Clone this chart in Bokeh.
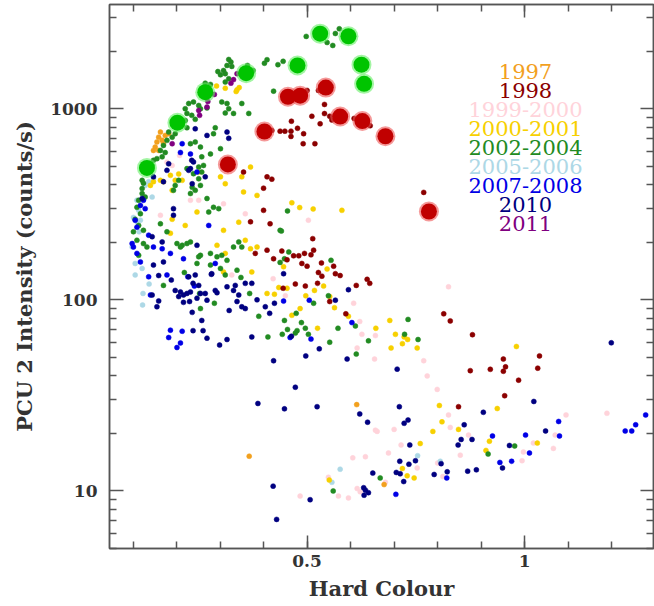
from bokeh.plotting import figure
from bokeh.models import FixedTicker, LinearAxis, LogAxis, Label, Range1d, CustomJSTickFormatter
from bokeh.embed import file_html
from bokeh.resources import INLINE

# ---------------- data (Hard Colour, PCU 2 intensity in counts/s) ----------------
hc_1997 = [0.163, 0.159, 0.155, 0.151, 0.167, 0.174, 0.182, 0.170, 0.159, 0.147, 0.614, 0.367, 0.677]
int_1997 = [755, 710, 670, 630, 683, 725, 740, 656, 605, 605, 28.3, 15.2, 10.8]

hc_1998 = [0.500, 0.526, 0.540, 0.511, 0.540, 0.552, 0.557, 0.530, 0.608, 0.645, 0.464, 0.478, 0.438, 0.449,
           0.463, 0.463, 0.492, 0.491, 0.518, 0.768, 0.419,
           0.354, 0.408, 0.419, 0.400, 0.400, 0.370, 0.415, 0.381, 0.408, 0.423,
           0.513, 0.515, 0.509, 0.494, 0.481, 0.469, 0.454, 0.442, 0.488, 0.500, 0.533, 0.561, 0.526, 0.534,
           0.565, 0.576, 0.638,
           0.644, 0.613, 0.496, 0.473, 0.445, 0.524, 0.552, 0.589, 0.814, 0.829, 0.848,
           0.880, 1.034, 0.951, 0.956, 0.951, 0.921, 0.875, 1.030, 0.986, 0.954]
int_1998 = [1247, 1247, 1053, 913, 943, 913, 873, 834, 890, 815, 860, 790, 763, 763,
            763, 716, 740, 656, 656, 365, 770,
            466, 440, 428, 384, 294, 256, 250, 175, 182, 164,
            209, 182, 172, 175, 170, 170, 162, 180, 155, 150, 156, 150, 139, 133,
            137, 134, 128,
            122, 119, 118, 121, 115, 122, 98, 84.5, 84.5, 77.6, 27.6,
            65.7, 50.9, 49, 44.6, 42.3, 43.3, 42.6, 43.9, 38, 31.5]

hc_1999 = [0.190, 0.232, 0.251, 0.163, 0.308, 0.358, 0.327, 0.503, 0.422, 0.825, 0.607, 0.621, 0.626, 0.657,
           0.615, 0.655, 0.768, 0.776, 0.799, 0.825, 0.829, 0.700, 0.661, 0.716, 0.450, 1.095, 1.189, 0.484,
           0.572, 0.595, 0.615, 0.622, 0.605, 0.634, 0.687, 0.753, 0.800, 0.812, 0.852, 0.871, 0.994, 0.997,
           1.020, 1.066, 1.070, 0.680, 0.549, 0.657, 0.207, 0.178]
int_1999 = [505, 332, 332, 277, 318, 282, 135, 261, 129, 117, 96, 77, 66, 65,
            56, 49, 48, 40, 34, 25, 21.5, 21, 20.5, 17.4, 105, 25, 25.5, 9.4,
            9.4, 9.2, 10.3, 9.9, 14.9, 15.1, 15.8, 13.2, 14.0, 11.9, 15.4, 19.6, 14.4, 16.0,
            17.8, 16.7, 19.6, 11.1, 11.8, 20.8, 570, 525]

hc_2000 = [0.292, 0.312, 0.339, 0.344, 0.337,
           0.140, 0.147, 0.163, 0.170, 0.186, 0.197, 0.205, 0.213, 0.251, 0.190, 0.190, 0.186, 0.220, 0.247,
           0.308, 0.312, 0.350, 0.370, 0.354, 0.385, 0.343, 0.293, 0.312, 0.358, 0.370, 0.385, 0.308, 0.373,
           0.446, 0.301,
           0.465, 0.483, 0.514, 0.580, 0.546,
           0.408, 0.425, 0.435, 0.454,
           0.538, 0.517, 0.497, 0.552, 0.563, 0.484, 0.465, 0.524, 0.595, 0.658, 0.690, 0.703, 0.723, 0.731,
           0.719, 0.693, 0.753, 0.804, 0.810, 0.789, 0.760,
           0.981, 0.937, 0.848, 0.919, 1.029,
           0.719, 0.730, 0.746, 0.551, 0.911]
int_2000 = [1315, 1280, 1255, 1290, 1230,
            397, 415, 422, 415, 448, 422, 456, 422, 466, 374, 264, 223, 245, 288,
            231, 405, 440, 495, 367, 352, 255, 193, 175, 205, 185, 189, 140, 140,
            149, 440,
            322, 304, 299, 294, 145,
            108, 107, 116, 115,
            118, 112, 105, 104, 91, 90, 83, 71, 82, 71, 78, 66, 64, 62,
            59, 56, 56, 28, 23, 20.5, 17.7,
            57, 27, 21, 18.2, 17.8,
            13.1, 12.0, 11.7, 11.4, 16.3]

hc_2002 = [0.498, 0.546, 0.559, 0.574, 0.565, 0.408, 0.402, 0.433, 0.445, 0.423, 0.363, 0.376, 0.320, 0.325,
           0.316, 0.327, 0.308, 0.295, 0.301, 0.312, 0.320, 0.312, 0.278, 0.266, 0.274, 0.239, 0.228, 0.251,
           0.270, 0.304, 0.316, 0.350, 0.320, 0.255, 0.220,
           0.366, 0.331, 0.312, 0.224, 0.235, 0.243, 0.220, 0.224, 0.197, 0.182, 0.190, 0.178, 0.170, 0.163,
           0.174, 0.167, 0.155, 0.147, 0.144, 0.243, 0.255, 0.232, 0.278, 0.301, 0.289, 0.285, 0.258, 0.262,
           0.251, 0.258, 0.239, 0.224, 0.251, 0.255, 0.236, 0.243, 0.232, 0.205, 0.197, 0.193, 0.121, 0.124,
           0.121, 0.121, 0.128, 0.113, 0.109, 0.117, 0.105, 0.113, 0.124, 0.101, 0.109, 0.124, 0.113, 0.132,
           0.163, 0.178, 0.270, 0.285, 0.297, 0.274, 0.201, 0.213, 0.224, 0.232, 0.209, 0.255, 0.251, 0.278,
           0.247, 0.278, 0.293, 0.304, 0.316, 0.331, 0.343, 0.350, 0.312, 0.339, 0.301, 0.438,
           0.455, 0.441, 0.458, 0.448, 0.555, 0.438,
           0.170, 0.218, 0.253, 0.255, 0.287, 0.348, 0.368, 0.389, 0.410, 0.448, 0.443, 0.455,
           0.549, 0.515, 0.475, 0.487, 0.477, 0.473, 0.496, 0.503, 0.571, 0.552, 0.611, 0.613, 0.641, 0.732,
           0.724, 0.755,
           0.977, 0.668, 0.560, 0.916]
int_2002 = [2390, 2220, 2143, 2620, 2475, 1805, 1730, 1700, 1770, 1236, 1684, 1585, 1810, 1755,
            1684, 1665, 1585, 1565, 1505, 1525, 1435, 1380, 1340, 1360, 1247, 1085, 1065, 1040,
            1010, 1085, 1065, 1065, 1000, 1000, 1000,
            945, 945, 950, 945, 923, 880, 869, 795, 740, 755, 710, 683, 643, 605,
            590, 560, 548, 537, 505, 670, 630, 656, 580, 618, 795, 740, 560, 505,
            495, 466, 457, 486, 430, 397, 388, 374, 360, 422, 397, 374, 382, 408,
            422, 360, 345, 332, 305, 282, 264, 245, 231, 227, 205, 197, 171, 189,
            250, 227, 339, 305, 300, 288, 197, 193, 197, 201, 189, 171, 168, 175,
            155, 152, 168, 171, 161, 189, 201, 189, 135, 143, 146, 231,
            292, 229, 178, 164, 161, 157,
            119, 139, 108, 90, 96, 131, 108, 82, 64, 78, 66, 70,
            105, 96, 85, 76, 69, 67, 71, 66, 71, 60, 73, 52, 61, 79,
            66, 62,
            17.2, 11.7, 10.0, 15.6]

hc_2005 = [0.147, 0.136, 0.128, 0.113, 0.101, 0.109, 0.144, 0.098, 0.105, 0.121, 0.105, 0.123, 0.122, 0.137,
           0.576, 0.557, 0.754, 0.806, 0.117, 0.109, 0.114]
int_2005 = [430, 415, 397, 294, 270, 256, 345, 189, 155, 146, 135, 108, 94, 121,
            13.0, 11.1, 15.3, 14.3, 261, 332, 227]

hc_2007 = [0.213, 0.209, 0.232, 0.247, 0.124, 0.117, 0.128, 0.105, 0.109, 0.136, 0.098, 0.101, 0.109, 0.117,
           0.147, 0.167, 0.186, 0.216, 0.274, 0.289, 0.136, 0.178,
           0.186, 0.213, 0.182, 0.209, 0.201, 0.140, 0.226, 0.241, 0.446, 0.461,
           0.505, 0.603, 0.509,
           1.078, 1.080, 1.002, 0.926, 1.278, 1.255, 1.246, 1.231,
           0.704, 0.821, 0.943, 0.970, 1.011]
int_2007 = [656, 590, 580, 466, 332, 312, 300, 261, 240, 218, 197, 189, 175, 158,
            189, 185, 175, 164, 245, 155, 132, 135,
            69.4, 68.5, 63.5, 59.5, 56.3, 106, 132, 118, 98.5, 63.5,
            99.6, 76, 62.3,
            23.1, 19.4, 19.6, 19.4, 25, 22.2, 20.6, 20.6,
            9.6, 11.7, 14.1, 14.3, 15.8]

hc_2010 = [0.243, 0.270, 0.239, 0.235, 0.232, 0.228, 0.266, 0.316, 0.320, 0.178, 0.182, 0.236, 0.170, 0.147,
           0.121, 0.193, 0.193, 0.144, 0.167, 0.247, 0.147, 0.170, 0.228, 0.243, 0.281, 0.446,
           0.159, 0.188, 0.144, 0.159, 0.155, 0.197, 0.209, 0.216, 0.224, 0.232, 0.205, 0.216, 0.230, 0.247,
           0.255, 0.266, 0.270, 0.289, 0.293, 0.316, 0.335, 0.331, 0.343, 0.339, 0.350, 0.358, 0.358, 0.373,
           0.236, 0.258, 0.238, 0.251, 0.280, 0.385, 0.404, 0.414, 0.425, 0.321, 0.238, 0.261, 0.270, 0.316,
           0.299, 0.373, 0.423, 0.387, 0.448,
           0.565, 0.595, 0.528, 0.464, 0.497, 0.592, 0.707, 0.473, 0.523, 0.621, 0.639, 0.712, 0.732, 0.723,
           0.736, 0.847,
           1.199, 1.021, 0.905, 0.861, 0.879, 0.965, 1.048,
           0.422, 0.507, 0.430, 0.651, 0.630, 0.634, 0.641, 0.631, 0.705, 0.714, 0.722, 0.713, 0.734, 0.749,
           0.808, 0.792, 0.822, 0.854, 0.869, 0.889, 0.949]
int_2010 = [785, 725, 527, 537, 486, 476, 440, 755, 700, 476, 515, 405, 415, 440,
            339, 300, 277, 214, 201, 193, 152, 158, 132, 135, 137, 137,
            134, 127, 106, 98.7, 92, 112, 110, 106, 108, 110, 104, 97, 98, 102,
            108, 108, 99.6, 112, 109, 117, 119, 112, 106, 98, 92, 90, 122, 122,
            86, 78, 122, 119, 136, 100, 92, 85, 96, 88, 69, 69, 63, 62,
            58, 64, 48, 28.7, 26.9,
            99.6, 113, 55.4, 64.5, 50.9, 49, 43.4, 34.9, 27.6, 25.3, 22.9, 27.6, 23.5, 22.6,
            17.4, 17.4,
            59.6, 29.4, 25.8, 22.2, 18.6, 17.3, 20.6,
            10.6, 9.0, 7.1, 12.4, 10.4, 10.1, 9.8, 9.5, 12.5, 12.3, 11.2, 14.3, 13.8, 14.4,
            13.9, 12.2, 12.6, 18.6, 12.7, 12.9, 13.2]

hc_2011 = [0.339, 0.331, 0.325, 0.287, 0.272, 0.253, 0.251, 0.270, 0.190]
int_2011 = [1525, 1420, 1360, 1188, 1090, 923, 980, 1020, 656]

hc_big_green = [0.132, 0.202, 0.266, 0.360, 0.478, 0.530, 0.595, 0.625, 0.631]
int_big_green = [490, 845, 1220, 1535, 1684, 2470, 2395, 1700, 1350]

hc_big_red = [0.318, 0.402, 0.456, 0.484, 0.543, 0.576, 0.627, 0.680, 0.780]
int_big_red = [511, 760, 1155, 1170, 1290, 910, 862, 718, 290]

legend_labels = ["1997", "1998", "1999-2000", "2000-2001", "2002-2004", "2005-2006", "2007-2008", "2010", "2011"]
legend_colors = ["#F2A01E", "#8B0000", "#FFD3DA", "#F7D000", "#228B22", "#ADD8E6", "#0000E6", "#000080", "#800080"]

x_major = [0.5, 1.0]
x_minor = [0.1, 0.2, 0.3, 0.4, 0.5, 0.6, 0.7, 0.8, 0.9, 1.0, 1.1, 1.2]
y_major = [10, 100, 1000]
y_minor = [m * 10 ** k for k in range(0, 4) for m in range(2, 10)]

# ---------------- figure ----------------
p = figure(width=654, height=606, x_range=Range1d(0.046, 1.296), y_range=Range1d(5.0, 3510),
           y_axis_type="log", output_backend="svg", toolbar_location=None,
           min_border_left=109, min_border_right=1, min_border_top=4, min_border_bottom=58)
p.grid.visible = False
p.background_fill_color = "white"
p.border_fill_color = "white"
p.outline_line_color = "#555555"
p.outline_line_width = 1.5

AX = "#555555"
TXT = "#333333"
FONT = "DejaVu Serif"


def style_axis(ax):
    ax.axis_line_color = AX
    ax.axis_line_width = 1.5
    ax.major_tick_line_color = AX
    ax.minor_tick_line_color = AX
    ax.major_tick_line_width = 1.5
    ax.minor_tick_line_width = 1.5
    ax.major_tick_in = 13
    ax.major_tick_out = 0
    ax.minor_tick_in = 7
    ax.minor_tick_out = 0
    ax.major_label_text_font = FONT
    ax.major_label_text_font_style = "bold"
    ax.major_label_text_font_size = "17px"
    ax.major_label_text_color = TXT
    ax.axis_label_text_font = FONT
    ax.axis_label_text_font_style = "bold"
    ax.axis_label_text_font_size = "21px"
    ax.axis_label_text_color = TXT


fmt = CustomJSTickFormatter(code="return String(tick);")

xa = p.xaxis[0]
xa.ticker = FixedTicker(ticks=x_major, minor_ticks=x_minor)
xa.formatter = fmt
xa.axis_label = "Hard Colour"
style_axis(xa)
xa.major_label_standoff = 6
xa.axis_label_standoff = 6

ya = p.yaxis[0]
ya.ticker = FixedTicker(ticks=y_major, minor_ticks=y_minor)
ya.formatter = fmt
ya.axis_label = "PCU 2 Intensity (counts/s)"
style_axis(ya)
ya.major_tick_in = 14
ya.major_label_standoff = 12
ya.axis_label_standoff = 10

# mirrored tick axes on top and right: ticks only, no labels
top = LinearAxis(ticker=FixedTicker(ticks=x_major, minor_ticks=x_minor))
style_axis(top)
top.major_label_text_font_size = "0px"
top.major_label_standoff = 0
top.major_label_overrides = {0.5: "", 1: ""}
p.add_layout(top, "above")

right = LogAxis(ticker=FixedTicker(ticks=y_major, minor_ticks=y_minor))
style_axis(right)
right.major_label_text_font_size = "0px"
right.major_label_standoff = 0
right.major_label_overrides = {10: "", 100: "", 1000: ""}
p.add_layout(right, "right")

# ---------------- points ----------------
series = [
    (hc_1999, int_1999, legend_colors[2]),
    (hc_2005, int_2005, legend_colors[5]),
    (hc_2000, int_2000, legend_colors[3]),
    (hc_1997, int_1997, legend_colors[0]),
    (hc_2002, int_2002, legend_colors[4]),
    (hc_1998, int_1998, legend_colors[1]),
    (hc_2007, int_2007, legend_colors[6]),
    (hc_2010, int_2010, legend_colors[7]),
    (hc_2011, int_2011, legend_colors[8]),
]
for xs, ys, col in series:
    p.scatter(xs, ys, size=5, fill_color=col, line_color=col, line_width=0.5)

# highlighted observations
p.scatter(hc_big_green, int_big_green, size=20, fill_color="#66EE66", fill_alpha=0.6, line_color=None)
p.scatter(hc_big_green, int_big_green, size=16, fill_color="#00C400", line_color=None)
p.scatter(hc_big_red, int_big_red, size=20, fill_color="#EE5555", fill_alpha=0.6, line_color=None)
p.scatter(hc_big_red, int_big_red, size=16, fill_color="#C00000", line_color=None)

# ---------------- year legend (coloured text) ----------------
for i, (lab, col) in enumerate(zip(legend_labels, legend_colors)):
    p.add_layout(Label(x=416, y=477 - 19 * i, x_units="screen", y_units="screen", text=lab,
                       text_font=FONT, text_font_size="21px", text_color=col,
                       text_align="center", text_baseline="middle"))

open("out.html", "w").write(file_html(p, INLINE))
